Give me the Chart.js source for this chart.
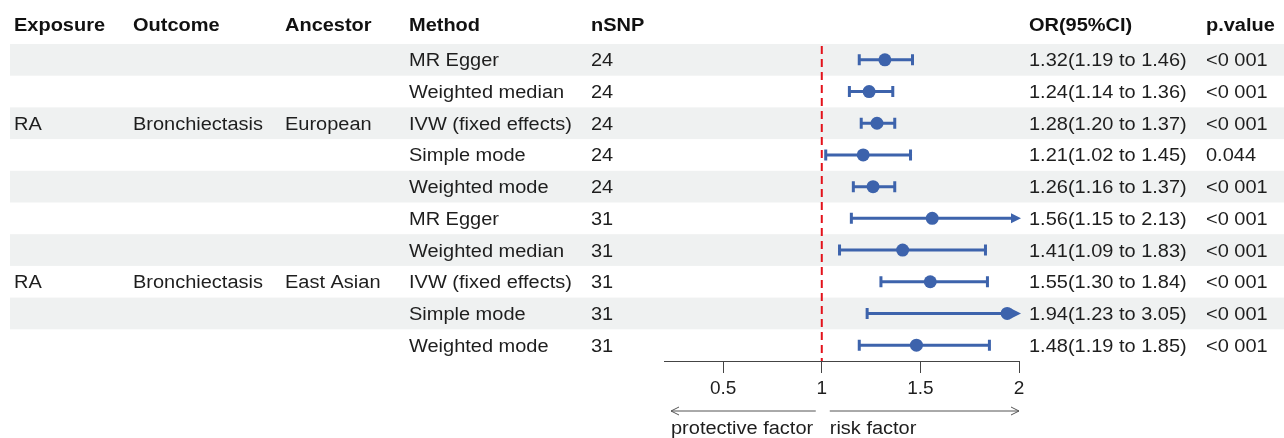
<!DOCTYPE html>
<html>
<head>
<meta charset="utf-8">
<script src="https://cdn.jsdelivr.net/npm/chart.js@4"></script>
<style>
  body { margin: 0; background: #fff; }
  canvas { display: block; }
</style>
</head>
<body>
<canvas id="chart" width="1284" height="438"></canvas>
<script>
// table data, one entry per row
const exposure = ['', '', 'RA', '', '', '', '', 'RA', '', ''];
const outcome = ['', '', 'Bronchiectasis', '', '', '', '', 'Bronchiectasis', '', ''];
const ancestor = ['', '', 'European', '', '', '', '', 'East Asian', '', ''];
const methods = ['MR Egger', 'Weighted median', 'IVW (fixed effects)', 'Simple mode', 'Weighted mode',
                 'MR Egger', 'Weighted median', 'IVW (fixed effects)', 'Simple mode', 'Weighted mode'];
const nsnp = [24, 24, 24, 24, 24, 31, 31, 31, 31, 31];
const orValues = [1.32, 1.24, 1.28, 1.21, 1.26, 1.56, 1.41, 1.55, 1.94, 1.48];
const ciLow = [1.19, 1.14, 1.20, 1.02, 1.16, 1.15, 1.09, 1.30, 1.23, 1.19];
const ciHigh = [1.46, 1.36, 1.37, 1.45, 1.37, 2.13, 1.83, 1.84, 3.05, 1.85];
const pValues = ['<0 001', '<0 001', '<0 001', '0.044', '<0 001', '<0 001', '<0 001', '<0 001', '<0 001', '<0 001'];
const xTicks = [0.5, 1, 1.5, 2];
const headers = ['Exposure', 'Outcome', 'Ancestor', 'Method', 'nSNP', 'OR(95%CI)', 'p.value'];

const colX = [14, 133, 285, 409, 591, 1029, 1206];
const blue = '#3d63ac';
const FONT = '"Liberation Sans", Arial, sans-serif';
const TEXT_DY = 1.5; // middle baseline sits a little high

function orText(i) {
    return orValues[i].toFixed(2) + '(' + ciLow[i].toFixed(2) + ' to ' + ciHigh[i].toFixed(2) + ')';
}

// text a bit wider than the font, like the original
function wideText(ctx, txt, x, y) {
    ctx.save();
    ctx.translate(x, y + TEXT_DY);
    ctx.scale(1.11, 1);
    ctx.fillText(txt, 0, 0);
    ctx.restore();
}

const tablePlugin = {
    id: 'table',
    beforeDraw(chart) {
        const ctx = chart.ctx;
        const y = chart.scales.y;
        const half = (y.getPixelForValue(1) - y.getPixelForValue(0)) / 2;
        ctx.save();
        ctx.fillStyle = '#eff1f1';
        for (let i = 0; i < methods.length; i += 2) {
            const cy = y.getPixelForValue(i + 1);
            ctx.fillRect(10, cy - half, chart.width - 10, half * 2);
        }
        ctx.restore();
    },
    afterDraw(chart) {
        const ctx = chart.ctx;
        const y = chart.scales.y;
        ctx.save();
        ctx.textBaseline = 'middle';
        ctx.textAlign = 'left';
        ctx.fillStyle = '#111';
        ctx.font = 'bold 18px ' + FONT;
        for (let c = 0; c < headers.length; c++) {
            wideText(ctx, headers[c], colX[c], 24.5);
        }
        ctx.fillStyle = '#1e1e1e';
        ctx.font = '18px ' + FONT;
        for (let i = 0; i < methods.length; i++) {
            const cy = y.getPixelForValue(i + 1);
            const cells = [exposure[i], outcome[i], ancestor[i], methods[i], String(nsnp[i]), orText(i), pValues[i]];
            for (let c = 0; c < cells.length; c++) {
                if (cells[c]) wideText(ctx, cells[c], colX[c], cy);
            }
        }

        // direction arrows under the axis
        const x = chart.scales.x;
        const x1 = x.getPixelForValue(1);
        const left = x.left + 7, right = x.right;
        const ay = 411;
        ctx.strokeStyle = '#555';
        ctx.lineWidth = 1;
        ctx.beginPath();
        ctx.moveTo(left, ay); ctx.lineTo(x1 - 6, ay);
        ctx.moveTo(left + 8, ay - 4); ctx.lineTo(left, ay); ctx.lineTo(left + 8, ay + 4);
        ctx.moveTo(x1 + 8, ay); ctx.lineTo(right, ay);
        ctx.moveTo(right - 8, ay - 4); ctx.lineTo(right, ay); ctx.lineTo(right - 8, ay + 4);
        ctx.stroke();
        ctx.fillStyle = '#1e1e1e';
        wideText(ctx, 'protective factor', left, 427.5);
        wideText(ctx, 'risk factor', x1 + 8, 427.5);
        ctx.restore();
    }
};

const errorBarPlugin = {
    id: 'errorBars',
    beforeDatasetsDraw(chart) {
        const ctx = chart.ctx;
        const x = chart.scales.x;
        const y = chart.scales.y;
        const xmax = x.max;

        // reference line at OR = 1
        const x1 = x.getPixelForValue(1);
        ctx.save();
        ctx.strokeStyle = '#e3121b';
        ctx.lineWidth = 2;
        ctx.setLineDash([8, 5]);
        ctx.beginPath();
        ctx.moveTo(x1, chart.chartArea.top + 2);
        ctx.lineTo(x1, chart.chartArea.bottom);
        ctx.stroke();
        ctx.setLineDash([]);

        ctx.strokeStyle = blue;
        ctx.fillStyle = blue;
        ctx.lineWidth = 3;
        for (let i = 0; i < orValues.length; i++) {
            const cy = y.getPixelForValue(i + 1);
            const xl = x.getPixelForValue(ciLow[i]);
            const clipped = ciHigh[i] > xmax;
            const xh = x.getPixelForValue(Math.min(ciHigh[i], xmax));
            ctx.beginPath();
            ctx.moveTo(xl, cy);
            ctx.lineTo(clipped ? xh - 4 : xh, cy);
            ctx.moveTo(xl, cy - 5.5);
            ctx.lineTo(xl, cy + 5.5);
            if (!clipped) {
                ctx.moveTo(xh, cy - 5.5);
                ctx.lineTo(xh, cy + 5.5);
            }
            ctx.stroke();
            if (clipped) {
                ctx.beginPath();
                ctx.moveTo(xh + 2, cy);
                ctx.lineTo(xh - 8, cy - 5);
                ctx.lineTo(xh - 8, cy + 5);
                ctx.closePath();
                ctx.fill();
            }
        }
        ctx.restore();
    }
};

const ctx = document.getElementById('chart').getContext('2d');
const chart = new Chart(ctx, {
    type: 'scatter',
    data: {
        datasets: [{
            data: orValues.map((v, i) => ({ x: v, y: i + 1 })),
            backgroundColor: blue,
            borderWidth: 0,
            pointRadius: 6.5,
            pointHoverRadius: 6.5
        }]
    },
    options: {
        responsive: false,
        animation: false,
        events: [],
        layout: { padding: { left: 664, right: 265, top: 44, bottom: 0 } },
        plugins: {
            legend: { display: false },
            tooltip: { enabled: false }
        },
        scales: {
            x: {
                type: 'linear',
                min: 0.2,
                max: 2,
                afterBuildTicks: axis => { axis.ticks = xTicks.map(v => ({ value: v })); },
                afterFit: axis => { axis.height = 77; },
                grid: {
                    drawOnChartArea: false,
                    drawTicks: true,
                    tickLength: 12,
                    color: '#444'
                },
                border: { display: true, color: '#444', width: 1 },
                ticks: {
                    padding: 4,
                    color: '#1e1e1e',
                    font: { size: 19, family: FONT },
                    callback: v => String(v)
                }
            },
            y: {
                type: 'linear',
                min: 0.5,
                max: 10.5,
                reverse: true,
                display: false
            }
        }
    },
    plugins: [tablePlugin, errorBarPlugin]
});
</script>
</body>
</html>
